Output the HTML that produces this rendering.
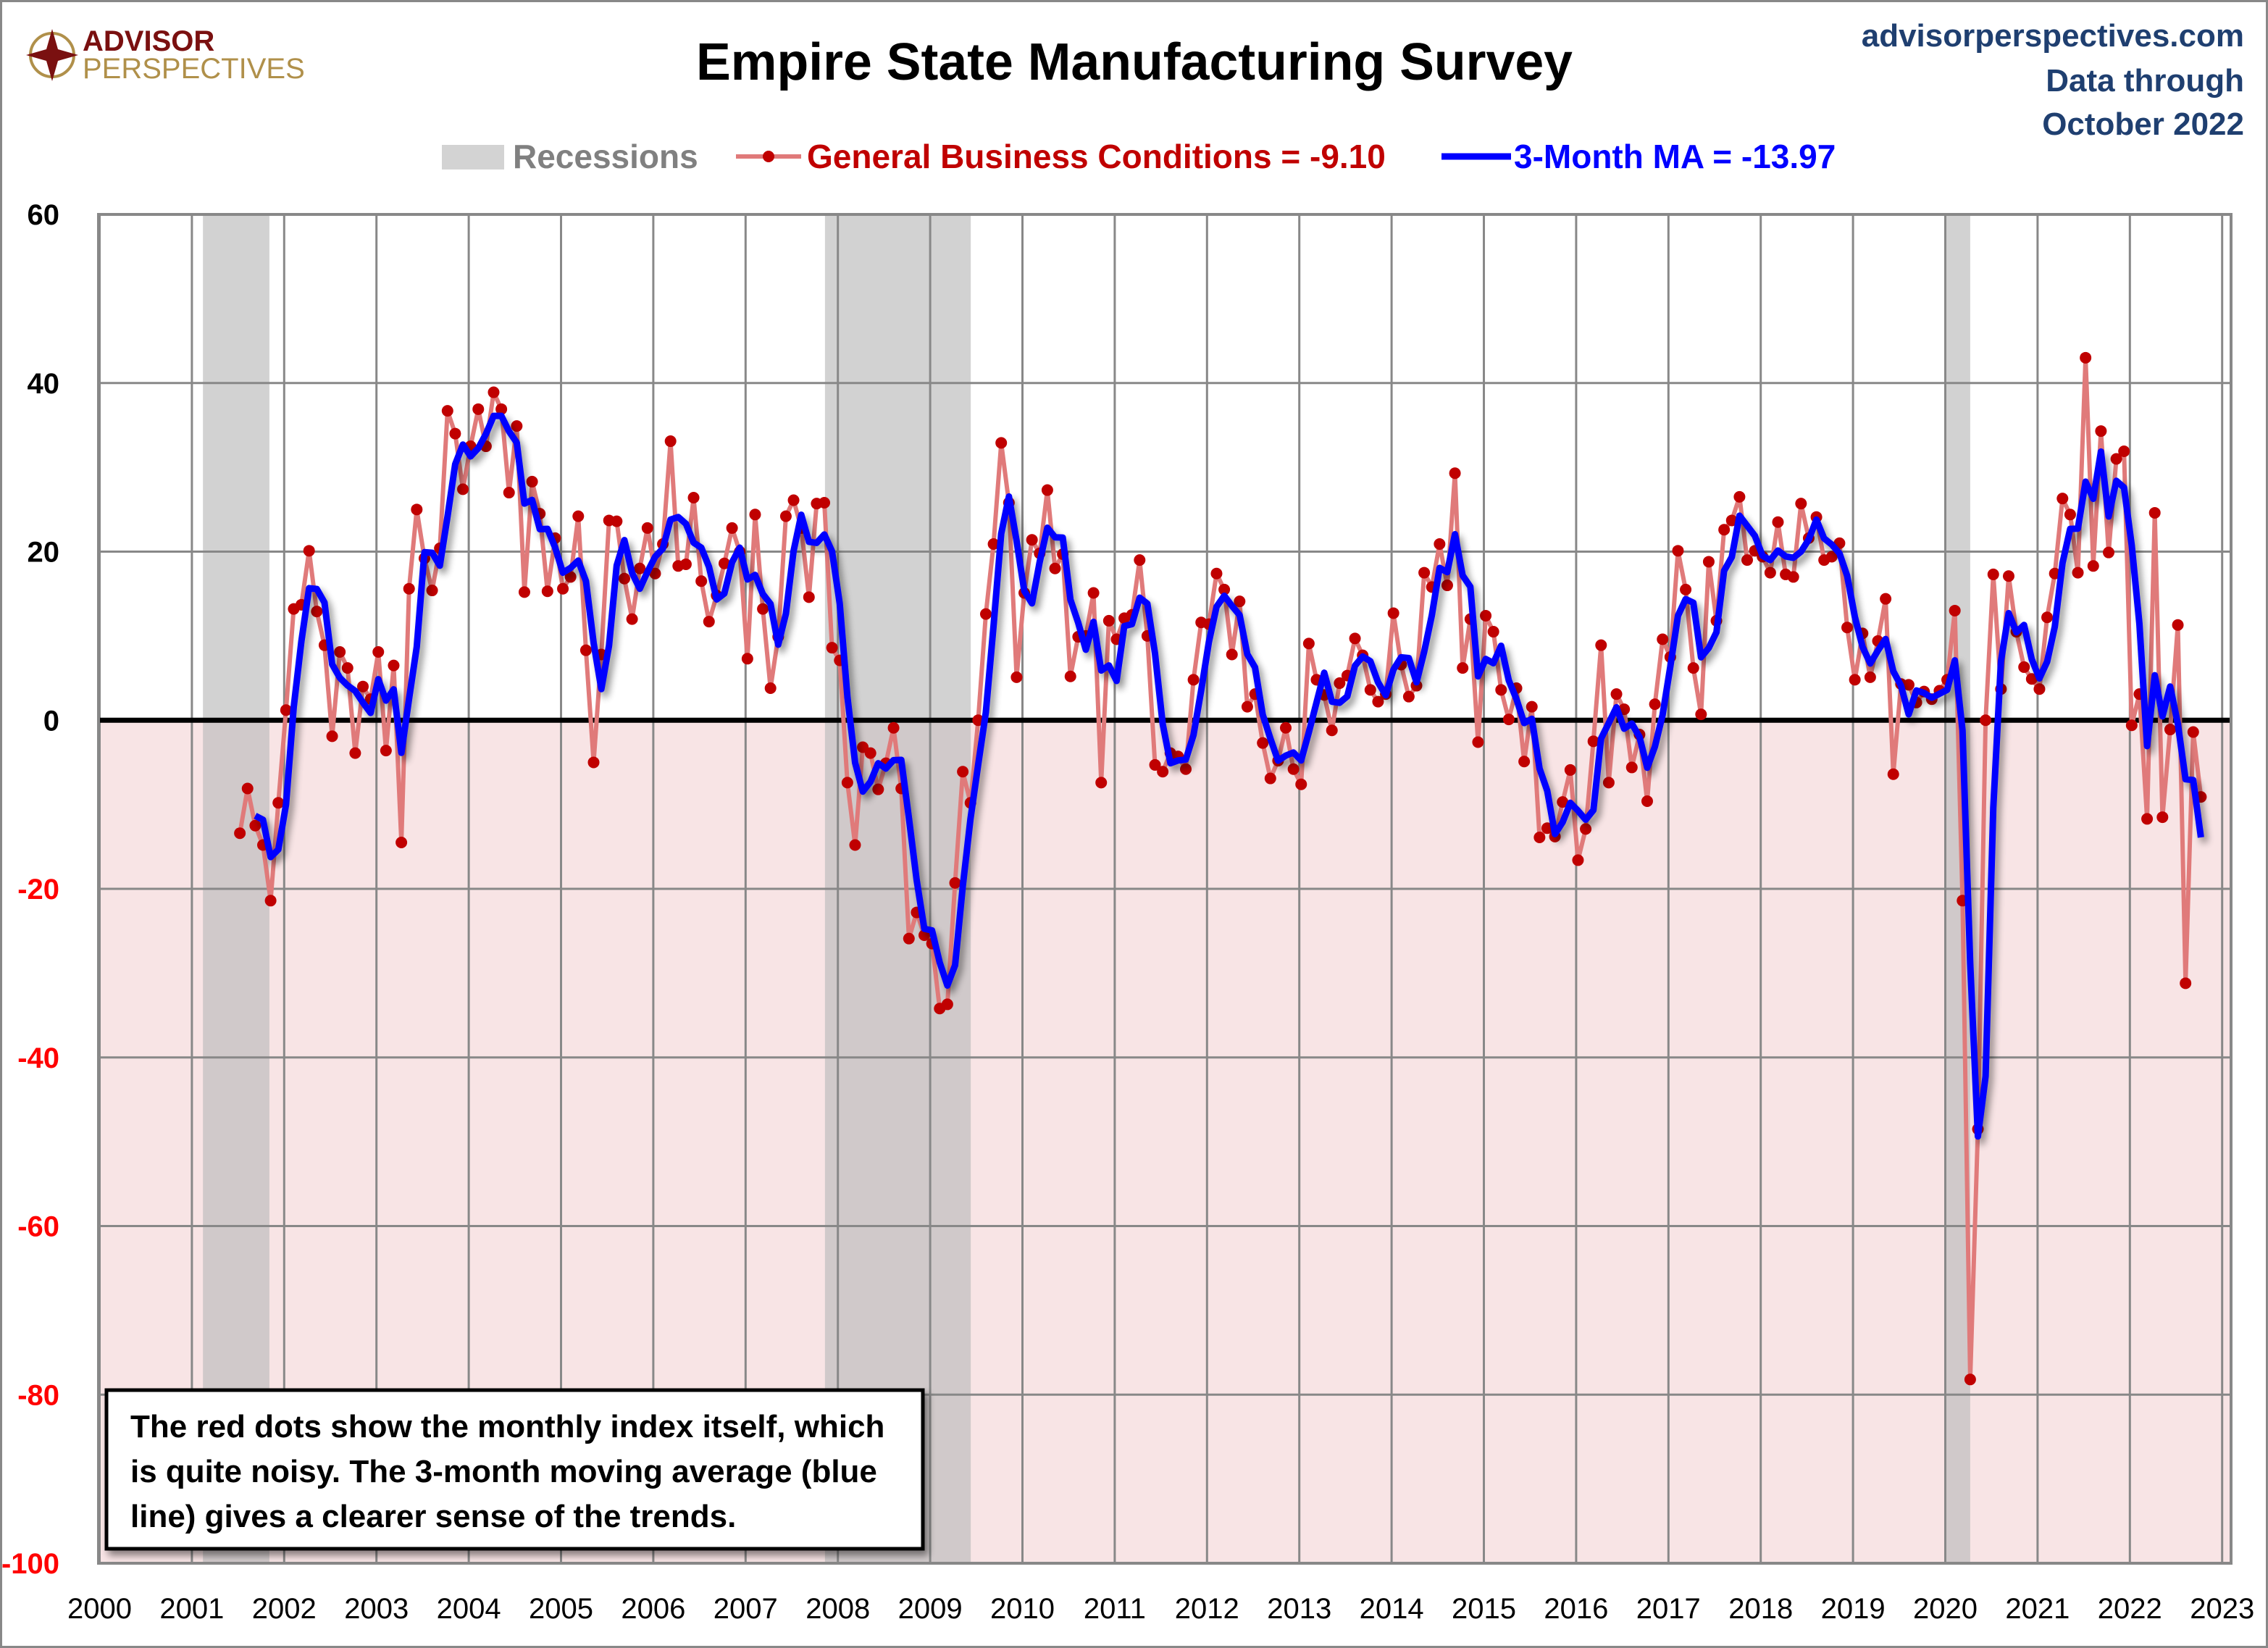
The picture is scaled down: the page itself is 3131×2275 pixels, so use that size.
<!DOCTYPE html>
<html><head><meta charset="utf-8"><style>
html,body{margin:0;padding:0;background:#fff}
svg{display:block}
text{font-family:"Liberation Sans Narrow","Liberation Sans",sans-serif;font-weight:bold}
</style></head><body>
<svg id="chart" width="3131" height="2275" viewBox="0 0 3131 2275" xmlns="http://www.w3.org/2000/svg">
<defs>
<filter id="sh" x="-5%" y="-5%" width="110%" height="120%"><feGaussianBlur in="SourceAlpha" stdDeviation="5"/><feOffset dx="5" dy="7"/><feComponentTransfer><feFuncA type="linear" slope="0.45"/></feComponentTransfer><feMerge><feMergeNode/><feMergeNode in="SourceGraphic"/></feMerge></filter>
</defs>
<rect x="1" y="1" width="3129" height="2273" fill="#fff" stroke="#888" stroke-width="4"/>
<g>
<circle cx="72" cy="76" r="30" fill="none" stroke="#b0904a" stroke-width="4"/>
<path d="M72 40 L80 68 L108 76 L80 84 L72 112 L64 84 L36 76 L64 68 Z" fill="#7a1010"/>
<text x="114" y="70" font-size="40" fill="#7a1010">ADVISOR</text>
<text x="114" y="108" font-size="40" fill="#b0904a" style="font-weight:normal">PERSPECTIVES</text>
</g>
<text x="1566" y="110" font-size="72" text-anchor="middle" fill="#000" textLength="1210" lengthAdjust="spacingAndGlyphs">Empire State Manufacturing Survey</text>
<g fill="#1f3f70" font-size="44" text-anchor="end">
<text x="3098" y="64">advisorperspectives.com</text>
<text x="3098" y="126">Data through</text>
<text x="3098" y="186">October 2022</text>
</g>
<g>
<rect x="610" y="200" width="86" height="34" fill="#d3d3d3"/>
<text x="708" y="232" font-size="46" fill="#808080">Recessions</text>
<line x1="1016" y1="216" x2="1106" y2="216" stroke="#e07a7a" stroke-width="6"/>
<circle cx="1061" cy="216" r="8" fill="#c00000"/>
<text x="1114" y="232" font-size="46" fill="#c00000">General Business Conditions = -9.10</text>
<line x1="1990" y1="216" x2="2086" y2="216" stroke="#0000ff" stroke-width="9"/>
<text x="2090" y="232" font-size="46" fill="#0000ff">3-Month MA = -13.97</text>
</g>
<g id="plot"></g>
<g filter="url(#sh)">
<rect x="147" y="1919" width="1127" height="219" fill="#fff" stroke="#000" stroke-width="5"/>
</g>
<g font-size="44" fill="#000">
<text x="180" y="1984">The red dots show the monthly  index itself, which</text>
<text x="180" y="2046">is quite noisy. The 3-month moving average (blue</text>
<text x="180" y="2108">line) gives a clearer sense of the trends.</text>
</g>
</svg>
<script>
const startYear = 2001, startMonth = 6; // July 2001
const gbc = [
-13.4,-8.1,-12.5,-14.8,-21.4,-9.8,
1.2,13.2,13.7,20.1,12.9,8.9,-1.9,8.1,6.2,-3.9,4.0,2.5,
8.1,-3.6,6.5,-14.5,15.6,25.0,19.2,15.4,20.4,36.7,34.0,27.4,
32.5,36.9,32.5,38.9,36.9,27.0,34.9,15.2,28.3,24.5,15.3,21.6,
15.6,17.0,24.2,8.3,-5.0,7.8,23.7,23.6,16.8,12.0,18.0,22.8,
17.4,20.9,33.1,18.3,18.5,26.4,16.5,11.7,14.8,18.6,22.8,20.0,
7.3,24.4,13.2,3.8,9.9,24.2,26.1,22.8,14.6,25.7,25.8,8.6,
7.1,-7.4,-14.8,-3.2,-3.9,-8.2,-5.1,-0.9,-8.1,-25.9,-22.8,-25.5,
-26.5,-34.2,-33.7,-19.3,-6.1,-9.8,0.0,12.6,20.9,32.9,25.8,5.1,
15.1,21.4,19.8,27.3,18.0,19.7,5.2,9.9,10.0,15.1,-7.4,11.8,
9.6,12.1,12.5,19.0,10.0,-5.3,-6.1,-3.9,-4.3,-5.8,4.8,11.6,
11.4,17.4,15.5,7.8,14.1,1.6,3.1,-2.7,-6.9,-4.8,-0.9,-5.8,
-7.6,9.1,4.8,3.0,-1.2,4.4,5.3,9.7,7.7,3.6,2.2,3.1,
12.7,6.6,2.8,4.1,17.5,15.8,20.9,16.0,29.3,6.2,12.0,-2.6,
12.4,10.5,3.6,0.1,3.8,-4.9,1.6,-13.9,-12.8,-13.8,-9.7,-5.9,
-16.6,-12.9,-2.5,8.9,-7.4,3.1,1.3,-5.6,-1.7,-9.6,1.9,9.6,
7.5,20.1,15.5,6.2,0.7,18.8,11.8,22.6,23.7,26.5,19.0,20.1,
19.4,17.5,23.5,17.3,17.0,25.7,21.6,24.1,19.0,19.4,21.0,11.0,
4.8,10.3,5.1,9.4,14.4,-6.4,4.3,4.2,2.1,3.4,2.5,3.5,
4.8,13.0,-21.4,-78.2,-48.5,0.0,17.3,3.7,17.1,10.5,6.3,4.9,
3.7,12.2,17.4,26.3,24.4,17.5,43.0,18.3,34.3,19.9,31.0,31.9,
-0.6,3.1,-11.7,24.6,-11.5,-1.1,11.3,-31.2,-1.4,-9.1];
const recessionStarts = [2001.12, 2007.86, 2020.0];
const recessionEnds = [2001.84, 2009.44, 2020.27];
const yTicks = [60,40,20,0,-20,-40,-60,-80,-100];
const xYears = [2000,2001,2002,2003,2004,2005,2006,2007,2008,2009,2010,2011,2012,2013,2014,2015,2016,2017,2018,2019,2020,2021,2022,2023];

const L=136,R=3080,T=296,B=2158, yMin=-100,yMax=60;
const X0=137.5, YW=127.4;
const xs = d => X0 + (d-2000)*YW;
const ys = v => T + (yMax - v)*(B-T)/(yMax-yMin);
const NS="http://www.w3.org/2000/svg";
const plot=document.getElementById('plot');
function mk(tag,attrs,parent){const e=document.createElementNS(NS,tag);for(const k in attrs)e.setAttribute(k,attrs[k]);(parent||plot).appendChild(e);return e;}

let bg=mk('rect',{x:L,y:T,width:R-L,height:ys(0)-T,fill:'#ffffff'});


let neg=mk('rect',{x:L,y:ys(0),width:R-L,height:B-ys(0),fill:'#f8e4e5'});


recessionStarts.forEach((s,i)=>{
  const r=mk('rect',{x:xs(s),y:T,width:xs(recessionEnds[i])-xs(s),height:B-T,fill:'#bdbdbd','fill-opacity':0.68});
  
  
});
xYears.forEach(y=>{
  const g=mk('line',{x1:xs(y),x2:xs(y),y1:T,y2:B,stroke:'#888',"stroke-width":3});
  
  
  const t=mk('text',{x:xs(y),y:2234,'font-size':40,'text-anchor':'middle',fill:'#000',style:'font-weight:normal'});
  t.textContent=y;
  
  
});
yTicks.forEach(v=>{
  if(v!==0){const g=mk('line',{x1:L,x2:R,y1:ys(v),y2:ys(v),stroke:'#888',"stroke-width":3});
  
  }
  const t=mk('text',{x:82,y:ys(v)+14,'font-size':40,'text-anchor':'end',fill:v<0?'#ff0000':'#000'});
  t.textContent=v;
  
  
});
const zl=mk('line',{x1:L,x2:R,y1:ys(0),y2:ys(0),stroke:'#000',"stroke-width":7});



const dates=gbc.map((v,i)=>startYear+(startMonth+i)/12+0.02);
const rl=mk('polyline',{points:gbc.map((v,i)=>xs(dates[i])+','+ys(v)).join(' '),fill:'none',stroke:'#e07a7a',"stroke-width":6,"stroke-linejoin":'round'});


gbc.forEach((v,i)=>{
  const c=mk('circle',{cx:xs(dates[i]),cy:ys(v),r:8,fill:'#c00000'});
  
  
});
const maPts=[];
for(let i=2;i<gbc.length;i++){const m=(gbc[i]+gbc[i-1]+gbc[i-2])/3;maPts.push(xs(dates[i])+','+ys(m));}
const bl=mk('polyline',{points:maPts.join(' '),fill:'none',stroke:'#0000ff',"stroke-width":9,"stroke-linejoin":'round',filter:'url(#sh)'});


const fr=mk('rect',{x:L,y:T,width:R-L,height:B-T,fill:'none',stroke:'#888',"stroke-width":4});


</script>
</body></html>
